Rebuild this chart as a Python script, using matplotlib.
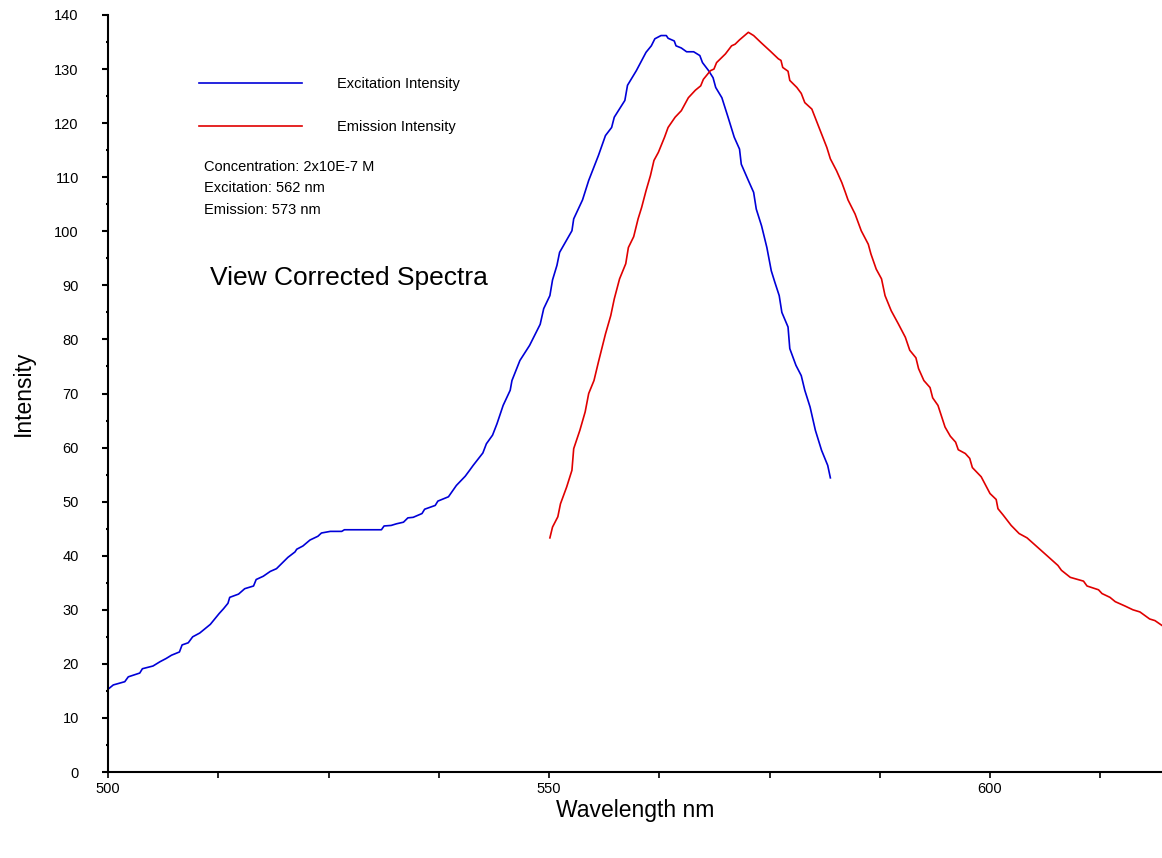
import matplotlib
matplotlib.use("Agg")
import matplotlib.pyplot as plt
from matplotlib.ticker import MultipleLocator, FixedLocator

plt.rcParams['font.family'] = ['Liberation Sans', 'DejaVu Sans']

# Excitation spectrum (wavelength nm, intensity)
exc_x = [500.0, 500.6, 501.9, 502.3, 503.6, 503.9, 505.1, 505.9, 506.6, 507.2, 508.1, 508.4, 509.1,
         509.6, 510.4, 511.6, 512.6, 513.1, 513.6, 513.8, 514.8, 515.5, 516.5, 516.8, 517.6, 518.4,
         519.1, 520.4, 521.2, 521.4, 522.1, 522.9, 523.8, 524.2, 525.2, 526.5, 526.8, 531.0, 531.3,
         532.1, 532.7, 533.5, 534.0, 534.6, 535.6, 535.9, 537.1, 537.4, 538.6, 539.5, 540.5, 541.0,
         541.4, 542.5, 542.9, 543.6, 544.1, 544.8, 545.6, 545.8, 546.7, 547.8, 549.0, 549.4, 550.1,
         550.4, 550.9, 551.2, 552.6, 552.8, 553.8, 554.5, 555.6, 556.4, 557.1, 557.4, 558.6, 558.9,
         559.9, 561.0, 561.6, 562.0, 562.7, 563.3, 563.5, 564.2, 564.4, 565.0, 565.6, 566.4, 567.1,
         567.4, 568.1, 568.6, 568.9, 569.6, 570.3, 571.0, 571.6, 571.8, 572.6, 573.2, 573.5, 574.1,
         574.7, 575.2, 575.6, 576.1, 576.4, 577.1, 577.3, 578.0, 578.6, 579.0, 579.6, 580.2, 580.9,
         581.6, 581.9]
exc_y = [15.3, 16.1, 16.7, 17.6, 18.3, 19.1, 19.6, 20.4, 21.0, 21.6, 22.2, 23.5, 23.9,
         25.0, 25.7, 27.3, 29.3, 30.2, 31.2, 32.3, 32.9, 33.9, 34.4, 35.6, 36.2, 37.1,
         37.6, 39.7, 40.7, 41.2, 41.8, 42.9, 43.6, 44.2, 44.5, 44.5, 44.8, 44.8, 45.5,
         45.6, 45.9, 46.2, 47.0, 47.1, 47.8, 48.6, 49.3, 50.1, 50.9, 53.0, 54.7, 55.8,
         56.7, 59.0, 60.7, 62.3, 64.4, 67.8, 70.6, 72.4, 76.1, 78.9, 82.8, 85.7, 88.1,
         91.0, 93.7, 96.1, 100.1, 102.3, 105.8, 109.4, 114.0, 117.7, 119.2, 121.1, 124.2, 127.0,
         129.7, 133.1, 134.3, 135.6, 136.2, 136.2, 135.7, 135.2, 134.3, 133.9, 133.2, 133.2, 132.5,
         131.2, 129.7, 128.4, 126.6, 124.7, 121.1, 117.4, 115.2, 112.4, 109.4, 107.2, 104.1, 101.0,
         97.0, 92.7, 90.6, 88.1, 85.0, 82.3, 78.3, 75.2, 73.3, 70.6, 67.5, 63.2, 59.5,
         56.7, 54.4]

# Emission spectrum (wavelength nm, intensity)
emi_x = [550.1, 550.4, 551.0, 551.3, 552.0, 552.6, 552.8, 553.5, 554.1, 554.5, 555.1, 555.6, 556.4,
         557.0, 557.4, 558.0, 558.7, 559.0, 559.6, 560.1, 560.5, 561.0, 561.5, 561.9, 562.4, 563.1,
         563.5, 564.3, 565.0, 565.8, 566.6, 567.2, 567.5, 568.3, 568.7, 569.0, 570.0, 570.7, 571.1,
         571.6, 572.6, 573.2, 574.1, 575.1, 576.0, 576.3, 576.5, 577.1, 577.3, 578.1, 578.6, 579.0,
         579.8, 580.9, 581.5, 581.9, 582.6, 583.2, 583.6, 583.9, 584.7, 585.4, 586.2, 586.5, 587.1,
         587.7, 588.1, 588.8, 589.6, 590.4, 590.9, 591.6, 591.9, 592.5, 593.2, 593.5, 594.1, 594.9,
         595.5, 596.1, 596.4, 597.2, 597.7, 598.0, 599.0, 600.0, 600.7, 600.9, 601.5, 602.4, 603.3,
         604.2, 605.3, 606.4, 607.7, 608.1, 609.1, 610.6, 611.0, 612.3, 612.7, 613.6, 614.2, 615.3,
         616.2, 617.0, 618.1, 618.7, 619.5]
emi_y = [43.3, 45.3, 47.2, 49.6, 52.7, 55.8, 59.8, 63.2, 66.6, 70.0, 72.4, 75.8, 81.0,
         84.4, 87.5, 91.2, 94.0, 97.0, 99.0, 102.3, 104.4, 107.5, 110.3, 113.1, 114.6, 117.4,
         119.2, 121.1, 122.3, 124.7, 126.1, 126.9, 128.1, 129.7, 130.0, 131.2, 132.8, 134.3, 134.6,
         135.4, 136.8, 136.2, 134.8, 133.3, 131.9, 131.6, 130.3, 129.6, 127.9, 126.6, 125.5, 123.8,
         122.6, 118.0, 115.5, 113.4, 111.2, 109.0, 107.2, 105.8, 103.2, 100.1, 97.6, 95.8, 93.0,
         91.2, 88.1, 85.3, 82.9, 80.4, 78.0, 76.6, 74.6, 72.4, 71.1, 69.2, 67.8, 63.8,
         62.1, 61.0, 59.6, 58.9, 58.0, 56.3, 54.6, 51.5, 50.4, 48.7, 47.5, 45.6, 44.1,
         43.3, 41.7, 40.1, 38.2, 37.3, 36.0, 35.3, 34.4, 33.7, 33.0, 32.3, 31.5, 30.7,
         30.0, 29.6, 28.3, 28.0, 27.1]

series_labels = ["Excitation Intensity", "Emission Intensity"]
x_major = [500, 550, 600]
info_lines = ["Concentration: 2x10E-7 M", "Excitation: 562 nm", "Emission: 573 nm"]

W, H = 1162, 858
fig = plt.figure(figsize=(W / 100, H / 100), dpi=100)
ax = fig.add_axes([108 / W, 86 / H, (W - 108) / W, (772 - 15) / H])

l1, = ax.plot(exc_x, exc_y, color='#0000d8', lw=1.2, label=series_labels[0])
l2, = ax.plot(emi_x, emi_y, color='#e00000', lw=1.2, label=series_labels[1])

ax.set_xlim(500, 619.5)
ax.set_ylim(0, 140)
for s in ['top', 'right']:
    ax.spines[s].set_visible(False)
for s in ['left', 'bottom']:
    ax.spines[s].set_linewidth(1.5)
    ax.spines[s].set_color('black')

ax.xaxis.set_major_locator(FixedLocator(x_major))
ax.xaxis.set_minor_locator(MultipleLocator(12.5))
ax.yaxis.set_major_locator(MultipleLocator(10))
ax.yaxis.set_minor_locator(MultipleLocator(5))
ax.tick_params(axis='x', which='both', direction='out', length=4, width=1.2, labelsize=10.5, pad=3)
ax.tick_params(axis='y', which='major', direction='out', length=4, width=1.5, labelsize=10.5, pad=17)
ax.tick_params(axis='y', which='minor', direction='out', length=1.8, width=1.5)

ax.set_xlabel("Wavelength nm", fontsize=16.5, labelpad=2)
ax.set_ylabel("Intensity", fontsize=16.5, labelpad=14)

leg = ax.legend(handles=[l1, l2], loc='upper left', bbox_to_anchor=(85 / (W - 108), 1 - 56 / 757),
                frameon=False, fontsize=10.5, handlelength=7.1, handletextpad=2.4,
                labelspacing=2.0, borderaxespad=0)
for h in leg.get_lines():
    h.set_linewidth(1.2)

for i, t in enumerate(info_lines):
    ax.text((204 - 108) / (W - 108), 1 - (167 - 15 + i * 21.5) / 757, t,
            transform=ax.transAxes, fontsize=10.5, va='center', ha='left')

ax.text((210 - 108) / (W - 108), 1 - (278 - 15) / 757, "View Corrected Spectra",
        transform=ax.transAxes, fontsize=19, va='center', ha='left')

fig.savefig("out.png", dpi=100)
